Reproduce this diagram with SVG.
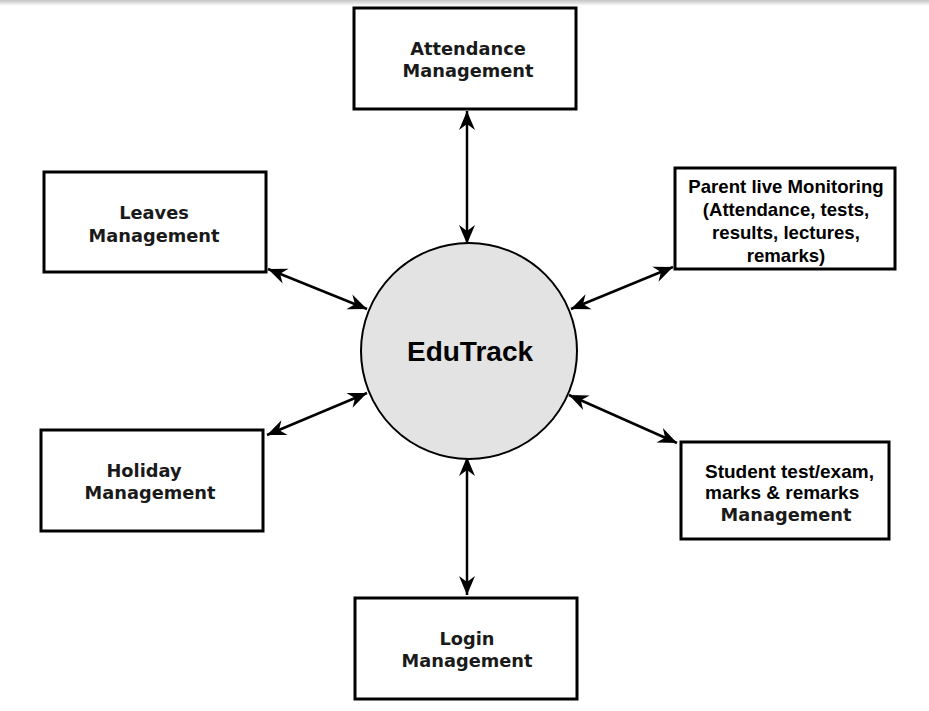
<svg xmlns="http://www.w3.org/2000/svg" width="929" height="711" viewBox="0 0 929 711">
  <style>
    .box { fill: #ffffff; stroke: #000000; stroke-width: 3; }
    .dv { font-family: "DejaVu Sans", sans-serif; font-weight: bold; font-size: 17.8px; fill: #1a1a1a; text-anchor: middle; }
    .ar { font-family: "Liberation Sans", Arial, sans-serif; font-weight: bold; font-size: 18.6px; fill: #000000; }
    .conn { stroke: #000000; stroke-width: 2.5; fill: none; marker-start: url(#head); marker-end: url(#head); }
  </style>
  <defs>
    <marker id="head" markerUnits="userSpaceOnUse" viewBox="-20 -9 21 18" refX="0" refY="0" markerWidth="21" markerHeight="18" orient="auto-start-reverse">
      <path d="M0,0 L-19,-8 L-13,0 L-19,8 Z" fill="#000000"/>
    </marker>
    <linearGradient id="topfade" x1="0" y1="0" x2="0" y2="1">
      <stop offset="0" stop-color="#c4c4c4"/>
      <stop offset="1" stop-color="#ffffff"/>
    </linearGradient>
  </defs>
  <rect x="0" y="0" width="929" height="711" fill="#ffffff"/>
  <rect x="0" y="0" width="929" height="6" fill="url(#topfade)"/>

  <g id="connectors">
    <line class="conn" x1="467" y1="111" x2="467" y2="244"/>
    <line class="conn" x1="467" y1="457" x2="467" y2="595"/>
    <line class="conn" x1="268" y1="269" x2="367" y2="309"/>
    <line class="conn" x1="367" y1="393" x2="267" y2="435"/>
    <line class="conn" x1="571" y1="309" x2="673" y2="267"/>
    <line class="conn" x1="569" y1="395" x2="677" y2="443"/>
  </g>

  <g id="edutrack">
    <circle cx="469" cy="351" r="108" fill="#e3e3e3" stroke="#000000" stroke-width="2"/>
    <text x="470" y="361" font-family="Liberation Sans, Arial, sans-serif" font-weight="bold" font-size="28px" text-anchor="middle" fill="#000000">EduTrack</text>
  </g>

  <g id="attendance">
    <rect class="box" x="354" y="8" width="222" height="101"/>
    <text class="dv" x="468" y="55">Attendance</text>
    <text class="dv" x="468" y="77">Management</text>
  </g>

  <g id="leaves">
    <rect class="box" x="44" y="172" width="222" height="100"/>
    <text class="dv" x="154" y="219">Leaves</text>
    <text class="dv" x="154" y="242">Management</text>
  </g>

  <g id="parent">
    <rect class="box" x="675" y="168" width="220" height="101"/>
    <text class="ar" x="786" y="193" text-anchor="middle">Parent live Monitoring</text>
    <text class="ar" x="786" y="216" text-anchor="middle">(Attendance, tests,</text>
    <text class="ar" x="786" y="239" text-anchor="middle">results, lectures,</text>
    <text class="ar" x="786" y="262" text-anchor="middle">remarks)</text>
  </g>

  <g id="holiday">
    <rect class="box" x="41" y="430" width="222" height="101"/>
    <text class="dv" x="144" y="477">Holiday</text>
    <text class="dv" x="150" y="499">Management</text>
  </g>

  <g id="student">
    <rect class="box" x="681" y="442" width="208" height="97"/>
    <text class="ar" x="705" y="478" style="font-size:19px">Student test/exam,</text>
    <text class="ar" x="705" y="499" style="font-size:19px">marks &amp; remarks</text>
    <text class="dv" x="786" y="521">Management</text>
  </g>

  <g id="login">
    <rect class="box" x="355" y="598" width="222" height="101"/>
    <text class="dv" x="467" y="645">Login</text>
    <text class="dv" x="467" y="667">Management</text>
  </g>
</svg>
